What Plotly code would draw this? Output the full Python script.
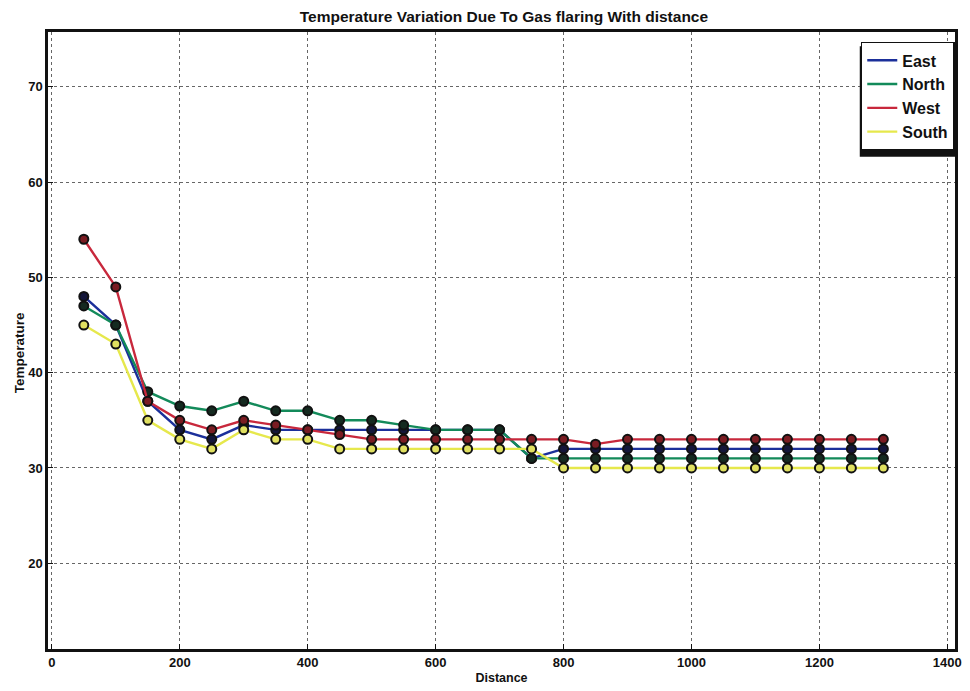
import plotly.graph_objects as go

distance = [50, 100, 150, 200, 250, 300, 350, 400, 450, 500, 550, 600, 650, 700,
            750, 800, 850, 900, 950, 1000, 1050, 1100, 1150, 1200, 1250, 1300]
east  = [48, 45, 37, 34, 33, 34.5, 34, 34, 34, 34, 34, 34, 34, 34,
         31, 32, 32, 32, 32, 32, 32, 32, 32, 32, 32, 32]
north = [47, 45, 38, 36.5, 36, 37, 36, 36, 35, 35, 34.5, 34, 34, 34,
         31, 31, 31, 31, 31, 31, 31, 31, 31, 31, 31, 31]
west  = [54, 49, 37, 35, 34, 35, 34.5, 34, 33.5, 33, 33, 33, 33, 33,
         33, 33, 32.5, 33, 33, 33, 33, 33, 33, 33, 33, 33]
south = [45, 43, 35, 33, 32, 34, 33, 33, 32, 32, 32, 32, 32, 32,
         32, 30, 30, 30, 30, 30, 30, 30, 30, 30, 30, 30]

series = [
    ("East", east, "#1b2f9a", "#14163a"),
    ("North", north, "#138a5a", "#152a20"),
    ("West", west, "#c8283c", "#7a1c22"),
    ("South", south, "#e6e84c", "#e0e060"),
]

x_ticks = [0, 200, 400, 600, 800, 1000, 1200, 1400]
y_ticks = [20, 30, 40, 50, 60, 70]

fig = go.Figure()
for name, vals, col, mcol in series:
    fig.add_trace(go.Scatter(
        x=distance, y=vals, name=name, mode="lines+markers", showlegend=False,
        line=dict(color=col, width=2.4),
        marker=dict(size=9, color=mcol, line=dict(color="#111111", width=2)),
    ))
for name, vals, col, mcol in series:
    fig.add_trace(go.Scatter(
        x=[None], y=[None], name=f"<b>{name}</b>", mode="lines",
        line=dict(color=col, width=2.4),
    ))

# legend drop shadow
fig.add_shape(type="rect", xref="paper", yref="paper",
              x0=0.895, x1=1.0, y0=0.798, y1=0.977,
              fillcolor="#111", line=dict(width=0), layer="above")

font_fam = "Liberation Sans, Arial, sans-serif"
fig.update_layout(
    width=962, height=683,
    margin=dict(l=40, r=8, t=24, b=39),
    paper_bgcolor="white", plot_bgcolor="white",
    title=dict(text="<b>Temperature Variation Due To Gas flaring With distance</b>",
               x=0.5155, xanchor="center", y=0.987, yanchor="middle",
               font=dict(family=font_fam, size=15.5, color="#111")),
    font=dict(family=font_fam, color="#111"),
    showlegend=True,
    legend=dict(x=0.8961, xanchor="left", y=0.984, yanchor="top",
                bgcolor="white", bordercolor="#111", borderwidth=1.5,
                font=dict(size=16, color="#111", family=font_fam),
                itemwidth=30, tracegroupgap=0),
    xaxis=dict(range=[-6, 1412], tickvals=x_ticks, ticktext=[f"<b>{t}</b>" for t in x_ticks],
               showgrid=True, gridcolor="#666", griddash="dot", gridwidth=1,
               showline=True, linecolor="#111", linewidth=2.5, mirror=True,
               ticks="inside", ticklen=5, tickcolor="#111", zeroline=False,
               tickfont=dict(size=13),
               title=dict(text="<b>Distance</b>", font=dict(size=12.5), standoff=4)),
    yaxis=dict(range=[11, 75.75], tickvals=y_ticks, ticktext=[f"<b>{t}</b>" for t in y_ticks],
               showgrid=True, gridcolor="#666", griddash="dot", gridwidth=1,
               showline=True, linecolor="#111", linewidth=2.5, mirror=True,
               ticks="inside", ticklen=5, tickcolor="#111", zeroline=False,
               tickfont=dict(size=13)),
    annotations=[dict(text="<b>Temperature</b>", textangle=-90, showarrow=False,
                      xref="paper", yref="paper", x=-0.0425, xanchor="left",
                      y=0.481, yanchor="middle",
                      font=dict(size=13.5, color="#111", family=font_fam))],
)

fig.write_html("out.html")
